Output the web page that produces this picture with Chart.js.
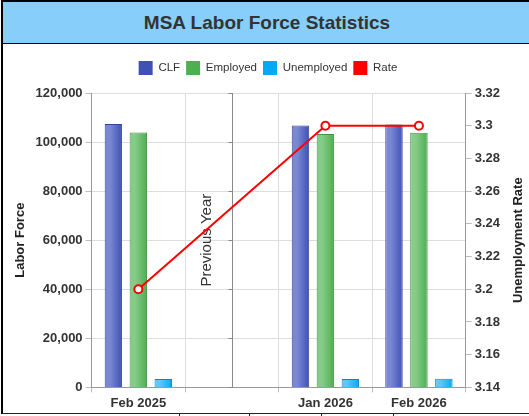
<!DOCTYPE html>
<html>
<head>
<meta charset="utf-8">
<script src="https://cdn.jsdelivr.net/npm/chart.js@4"></script>
<style>
  body { margin: 0; background: #fff; font-family: "Liberation Sans", Arial, sans-serif; }
  #box { position: absolute; left: 1px; top: 0; width: 528px; height: 411px; border-left: 2px solid #000; border-top: 2px solid #000; border-bottom: 1px solid #222; }
  #title { height: 41px; background: #87cefa; border-bottom: 1px solid #000; text-align: center; font-weight: bold; font-size: 19px; color: #333; line-height: 42px; }
  #wrap { position: relative; width: 526px; height: 370px; }
  .tk { position: absolute; top: 414px; width: 1px; height: 3px; background: #222; }
</style>
</head>
<body>
<div id="box">
  <div id="title">MSA Labor Force Statistics</div>
  <div id="wrap"><canvas id="laborChart"></canvas></div>
</div>
<div class="tk" style="left:179px"></div>
<div class="tk" style="left:249px"></div>
<div class="tk" style="left:321px"></div>
<div class="tk" style="left:393px"></div>
<script>
// data
const categories = ["Feb 2025", "", "Jan 2026", "Feb 2026"];
const clfData = [107400, null, 106800, 107200];
const employedData = [103900, null, 103300, 103800];
const unemployedData = [3400, null, 3400, 3500];
const rateData = [3.2, null, 3.3, 3.3];

const laborTicks = [0, 120000, 20000];
const rateTicks = [3.14, 3.32, 0.02];
const dividerIndex = 1;
const dividerLabel = "Previous Year";
const rateTitle = "Unemployment Rate";

const color = {
  clf: ["#7a88d4", "#3f51b5", "#34449c"],
  employed: ["#86cc89", "#4caf50", "#3d9441"],
  unemployed: ["#5fc8f8", "#03a9f4", "#0288d1"],
  rate: "#ff0000"
};

const fontFamily = "'Liberation Sans', Arial, sans-serif";
Chart.defaults.font.family = fontFamily;
Chart.defaults.color = "#333";

// shaded bar fill, light on the left, dark on the right
function barFill(colors, slot) {
  return function (context) {
    const chart = context.chart;
    const x = chart.scales.x;
    if (!chart.chartArea || !x || context.dataIndex === undefined) return colors[1];
    const catWidth = x.width / categories.length;
    const slotWidth = catWidth * 0.8 / 3;
    const center = x.getPixelForValue(context.dataIndex) + (slot - 1) * slotWidth;
    const half = slotWidth * 0.7 / 2;
    const g = chart.ctx.createLinearGradient(center - half, 0, center + half, 0);
    g.addColorStop(0, colors[0]);
    g.addColorStop(0.3, colors[0]);
    g.addColorStop(1, colors[1]);
    return g;
  };
}

// a little extra room under the legend
const legendGap = {
  id: "legendGap",
  beforeInit(chart) {
    const fit = chart.legend.fit;
    chart.legend.fit = function () {
      fit.bind(chart.legend)();
      this.height += 8;
    };
  }
};

const dividerPlugin = {
  id: "divider",
  beforeDatasetsDraw(chart) {
    const ctx = chart.ctx;
    const area = chart.chartArea;
    const x = Math.round(chart.scales.x.getPixelForValue(dividerIndex)) + 0.5;
    const y = chart.scales.yLeft;
    ctx.save();
    ctx.strokeStyle = "#888";
    ctx.lineWidth = 1;
    ctx.beginPath();
    ctx.moveTo(x, area.top);
    ctx.lineTo(x, area.bottom);
    y.ticks.forEach(function (t) {
      const py = Math.round(y.getPixelForValue(t.value)) + 0.5;
      ctx.moveTo(x - 4, py);
      ctx.lineTo(x, py);
    });
    ctx.stroke();
    ctx.translate(x - 26, (area.top + area.bottom) / 2);
    ctx.rotate(-Math.PI / 2);
    ctx.fillStyle = "#333";
    ctx.font = "15px " + fontFamily;
    ctx.textAlign = "center";
    ctx.textBaseline = "middle";
    ctx.fillText(dividerLabel, 0, 0);
    ctx.restore();
  },
  afterDraw(chart) {
    // right axis title, reading bottom to top like the left one
    const ctx = chart.ctx;
    const s = chart.scales.yRight;
    ctx.save();
    ctx.translate(s.right - 9, (chart.chartArea.top + chart.chartArea.bottom) / 2);
    ctx.rotate(-Math.PI / 2);
    ctx.fillStyle = "#222";
    ctx.font = "bold 13px " + fontFamily;
    ctx.textAlign = "center";
    ctx.textBaseline = "middle";
    ctx.fillText(rateTitle, 0, 0);
    ctx.restore();
  }
};

new Chart(document.getElementById("laborChart").getContext("2d"), {
  type: "bar",
  data: {
    labels: categories,
    datasets: [
      {
        type: "line",
        label: "Rate",
        data: rateData,
        yAxisID: "yRight",
        borderColor: color.rate,
        backgroundColor: color.rate,
        borderWidth: 2,
        pointRadius: 4,
        pointBorderWidth: 2,
        pointBackgroundColor: "#fff",
        pointBorderColor: color.rate,
        spanGaps: true,
        tension: 0,
        order: 0
      },
      {
        label: "CLF",
        data: clfData,
        yAxisID: "yLeft",
        backgroundColor: barFill(color.clf, 0),
        borderColor: color.clf[2],
        borderWidth: 1,
        order: 1
      },
      {
        label: "Employed",
        data: employedData,
        yAxisID: "yLeft",
        backgroundColor: barFill(color.employed, 1),
        borderColor: color.employed[2],
        borderWidth: 1,
        order: 1
      },
      {
        label: "Unemployed",
        data: unemployedData,
        yAxisID: "yLeft",
        backgroundColor: barFill(color.unemployed, 2),
        borderColor: color.unemployed[2],
        borderWidth: 1,
        order: 1
      }
    ]
  },
  options: {
    responsive: true,
    maintainAspectRatio: false,
    animation: false,
    barPercentage: 0.7,
    categoryPercentage: 0.8,
    layout: { padding: { left: 6, right: 2, top: 11, bottom: 0 } },
    plugins: {
      tooltip: { enabled: false },
      legend: {
        position: "top",
        labels: {
          boxWidth: 14,
          boxHeight: 14,
          padding: 6,
          color: "#333",
          font: { size: 11.5 },
          generateLabels: function (chart) {
            const fills = [color.clf[1], color.employed[1], color.unemployed[1], color.rate];
            const names = ["CLF", "Employed", "Unemployed", "Rate"];
            return names.map(function (n, i) {
              return { text: n, fillStyle: fills[i], strokeStyle: fills[i], lineWidth: 0, hidden: false, datasetIndex: i, fontColor: "#333" };
            });
          }
        }
      }
    },
    scales: {
      x: {
        offset: true,
        grid: { offset: true, color: "#ddd", tickLength: 5, tickColor: "#bbb" },
        border: { color: "#999" },
        ticks: { color: "#333", font: { size: 13, weight: "bold" }, padding: 3 }
      },
      yLeft: {
        position: "left",
        min: laborTicks[0],
        max: laborTicks[1],
        ticks: { stepSize: laborTicks[2], color: "#333", font: { size: 13, weight: "bold" }, padding: 3 },
        grid: { color: "#ddd", tickLength: 6, tickColor: "#bbb" },
        border: { color: "#999" },
        title: { display: true, text: "Labor Force", color: "#222", font: { size: 13, weight: "bold" } }
      },
      yRight: {
        position: "right",
        min: rateTicks[0],
        max: rateTicks[1],
        afterFit: function (scale) { scale.width += 24; },
        ticks: {
          stepSize: rateTicks[2],
          color: "#333",
          font: { size: 13, weight: "bold" },
          padding: 3,
          callback: function (v) { return String(Number(v.toFixed(2))); }
        },
        grid: { drawOnChartArea: false, tickLength: 6, tickColor: "#bbb" },
        border: { color: "#999" }
      }
    }
  },
  plugins: [legendGap, dividerPlugin]
});
</script>
</body>
</html>
